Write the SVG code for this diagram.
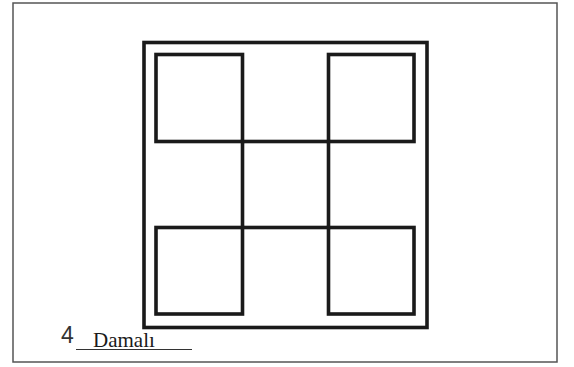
<svg xmlns="http://www.w3.org/2000/svg" width="574" height="367" viewBox="0 0 574 367">
<style>
.sq{fill:none;stroke:#1a1a1a;stroke-width:3.6;stroke-linejoin:miter}
.frame{fill:none;stroke:#555;stroke-width:1.5}
</style>
<rect width="574" height="367" fill="#fff"/>
<rect class="frame" x="13" y="3" width="544" height="359"/>
<g id="outer-square"><rect class="sq" x="144" y="42.5" width="283" height="285"/></g>
<g id="top-left"><rect class="sq" x="156" y="54.5" width="86.5" height="87"/></g>
<g id="top-right"><rect class="sq" x="328.5" y="54.5" width="85.5" height="87"/></g>
<g id="bottom-left"><rect class="sq" x="156" y="227.5" width="86.5" height="86.5"/></g>
<g id="bottom-right"><rect class="sq" x="328.5" y="227.5" width="85.5" height="86.5"/></g>
<g id="center"><rect class="sq" x="242.5" y="141.5" width="86" height="86"/></g>
<g id="label">
<text x="61" y="343" font-family="Liberation Sans, Arial, sans-serif" font-size="23" fill="#333">4</text>
<text x="93" y="346.5" font-family="Liberation Serif, Times New Roman, serif" font-size="21" fill="#1a1a1a">Damalı</text>
<line x1="76" y1="349.5" x2="192" y2="349.5" stroke="#333" stroke-width="1.2"/>
</g>
</svg>
